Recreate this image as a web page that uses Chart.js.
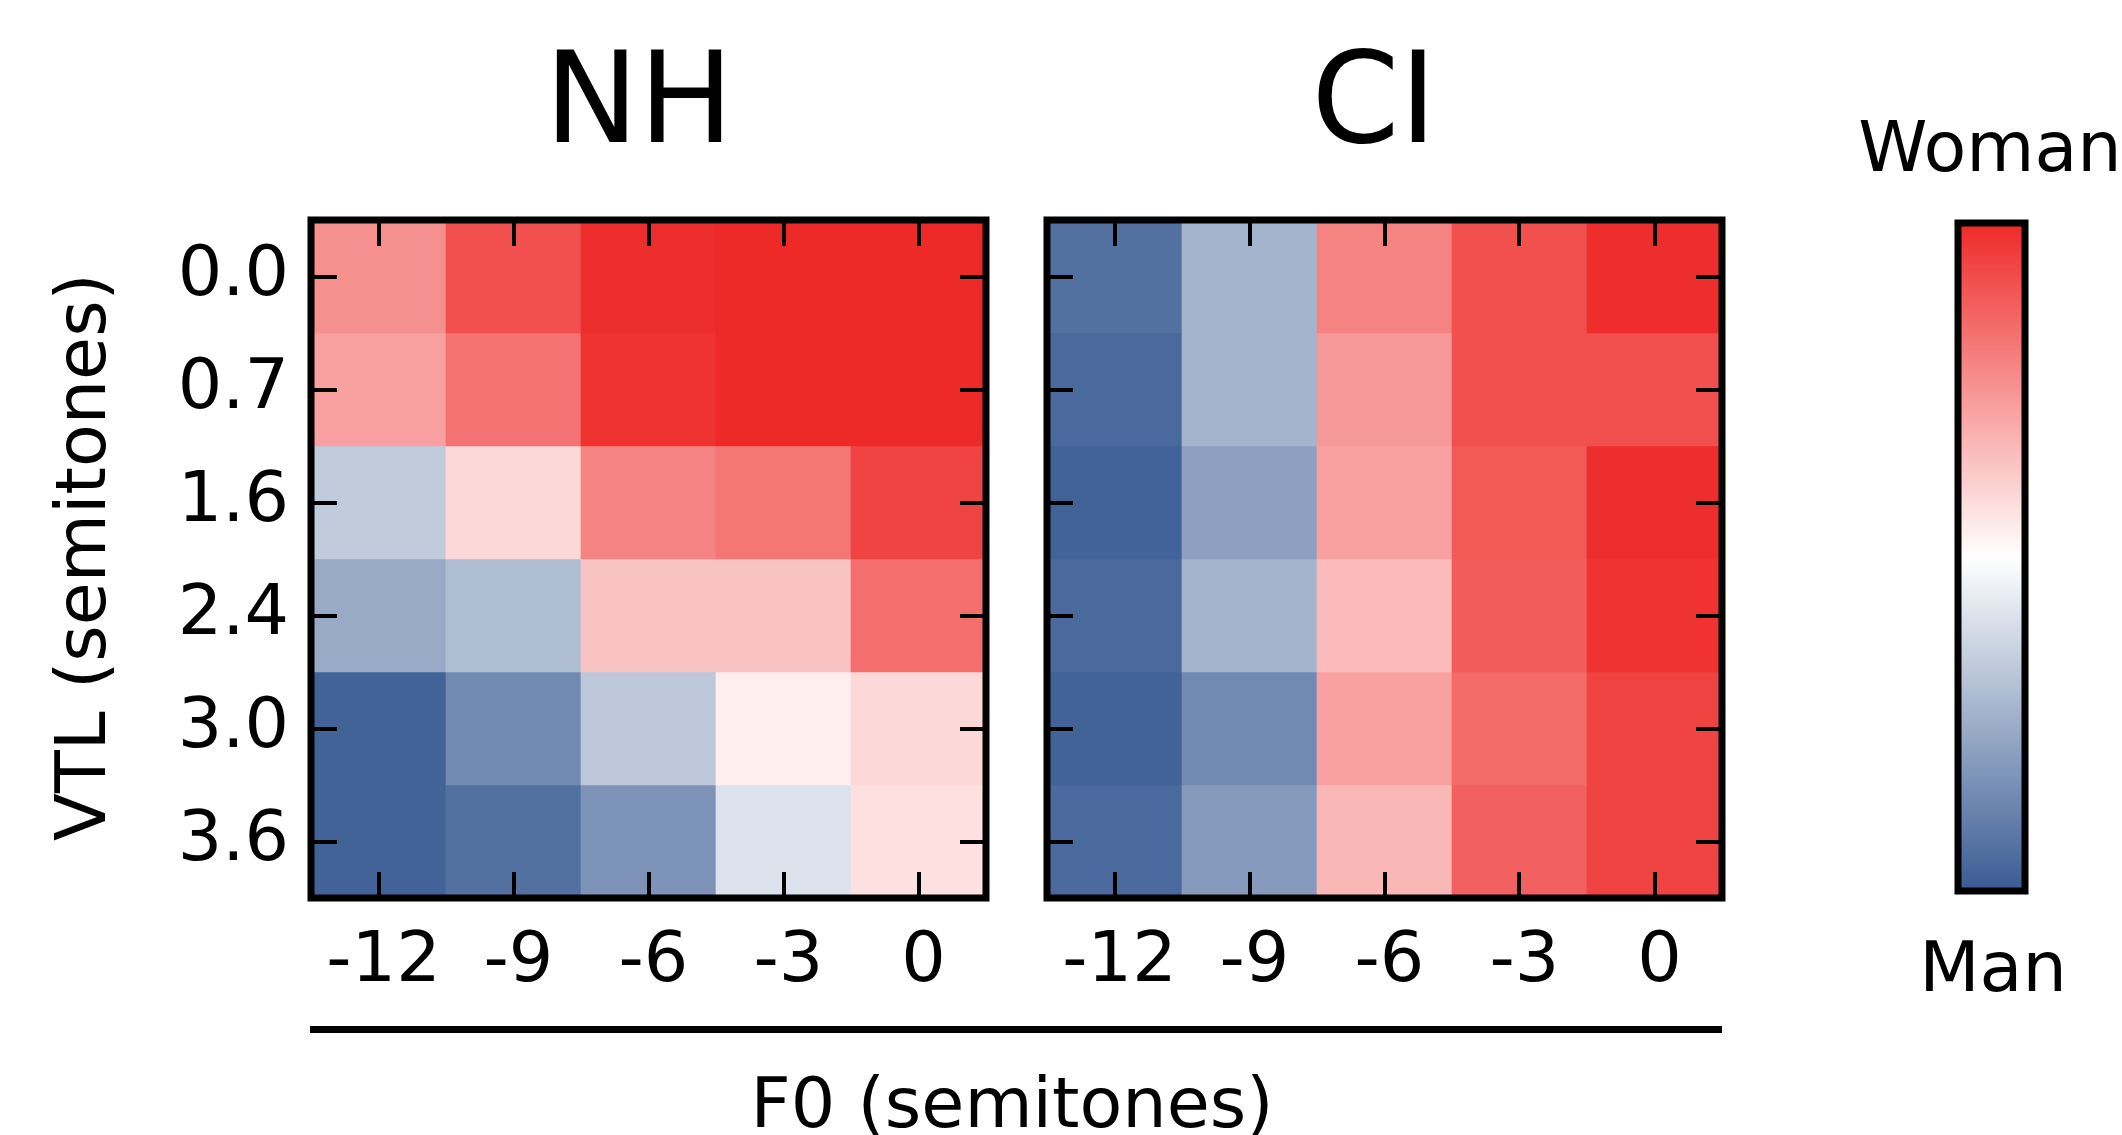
<!DOCTYPE html>
<html>
<head>
<meta charset="utf-8">
<script src="https://cdn.jsdelivr.net/npm/chart.js@4.4.1/dist/chart.umd.min.js"></script>
<style>
  html, body { margin: 0; padding: 0; background: #fff; }
  body { width: 2122px; height: 1135px; position: relative; overflow: hidden; font-family: 'DejaVu Sans', sans-serif; color: #000; }
  canvas { position: absolute; }
  .lbl { position: absolute; line-height: 1; white-space: nowrap; }
</style>
</head>
<body>
<div class="lbl" style="font-size:126px; left:639px; top:36px; transform:translateX(-50%);">NH</div>
<div class="lbl" style="font-size:126px; left:1374px; top:36px; transform:translateX(-50%);">CI</div>
<div class="lbl" style="font-size:70px; left:1990px; top:112px; transform:translateX(-50%);">Woman</div>
<div class="lbl" style="font-size:70px; left:1993px; top:932px; transform:translateX(-50%);">Man</div>
<div class="lbl" style="font-size:70px; left:81px; top:557px; transform:translate(-50%,-50%) rotate(-90deg);">VTL (semitones)</div>
<div class="lbl" style="font-size:70px; left:1012px; top:1068px; transform:translateX(-50%);">F0 (semitones)</div>
<div style="position:absolute; left:310px; top:1026px; width:1412px; height:7px; background:#000;"></div>

<canvas id="nh" width="1010" height="1135" style="left:0; top:0;"></canvas>
<canvas id="ci" width="730" height="1135" style="left:1010px; top:0;"></canvas>
<canvas id="cbar" width="100" height="705" style="left:1940px; top:205px;"></canvas>

<script>
const f0Labels = ['-12', '-9', '-6', '-3', '0'];
const vtlLabels = ['0.0', '0.7', '1.6', '2.4', '3.0', '3.6'];

// proportion of "woman" answers, one row per VTL step (top to bottom), one column per F0 step
const nhWoman = [
  [0.76, 0.91, 0.99, 1.00, 1.00],
  [0.72, 0.83, 0.98, 1.00, 1.00],
  [0.34, 0.59, 0.79, 0.82, 0.94],
  [0.24, 0.30, 0.64, 0.64, 0.84],
  [0.02, 0.14, 0.33, 0.54, 0.59],
  [0.02, 0.06, 0.17, 0.41, 0.57]
];
const ciWoman = [
  [0.06, 0.27, 0.79, 0.91, 0.99],
  [0.04, 0.27, 0.74, 0.91, 0.91],
  [0.02, 0.21, 0.72, 0.89, 0.99],
  [0.04, 0.27, 0.66, 0.88, 0.98],
  [0.02, 0.14, 0.72, 0.85, 0.94],
  [0.04, 0.19, 0.67, 0.87, 0.94]
];
const cbStops = [0, 0.5, 1];

const MAN = [58, 92, 147], MID = [255, 255, 255], WOMAN = [238, 42, 40];
function cmap(v) {
  const lo = v < 0.5;
  const a = lo ? MAN : MID, b = lo ? MID : WOMAN;
  const t = lo ? v / 0.5 : (v - 0.5) / 0.5;
  const c = a.map((x, i) => Math.round(x + (b[i] - x) * t));
  return 'rgb(' + c.join(',') + ')';
}

Chart.defaults.font.family = "'DejaVu Sans', sans-serif";
Chart.defaults.color = '#000';
Chart.defaults.animation = false;

// black box round the plot area, plus inward ticks
const frame = {
  id: 'frame',
  afterDraw(chart, args, opts) {
    const { ctx, chartArea: a, scales } = chart;
    ctx.save();
    ctx.strokeStyle = '#000';
    if (opts.ticks) {
      const len = 26;
      ctx.lineWidth = 4;
      ctx.beginPath();
      scales.x.ticks.forEach((t, i) => {
        const px = Math.round(scales.x.getPixelForTick(i));
        ctx.moveTo(px, a.top); ctx.lineTo(px, a.top + len);
        ctx.moveTo(px, a.bottom); ctx.lineTo(px, a.bottom - len);
      });
      scales.y.ticks.forEach((t, i) => {
        const py = Math.round(scales.y.getPixelForTick(i));
        ctx.moveTo(a.left, py); ctx.lineTo(a.left + len, py);
        ctx.moveTo(a.right, py); ctx.lineTo(a.right - len, py);
      });
      ctx.stroke();
    }
    ctx.lineWidth = 7;
    ctx.lineJoin = 'miter';
    ctx.strokeRect(a.left, a.top, a.width, a.height);
    ctx.restore();
  }
};

function heatmap(id, values, showY, yWidth, padRight) {
  return new Chart(document.getElementById(id), {
    type: 'bar',
    data: {
      labels: f0Labels,
      datasets: vtlLabels.map((lab, r) => ({
        label: lab,
        data: f0Labels.map(() => 1),
        backgroundColor: c => cmap(values[r][c.dataIndex]),
        borderWidth: 0,
        barPercentage: 1,
        categoryPercentage: 1
      }))
    },
    options: {
      responsive: false,
      layout: { padding: { left: 0, top: 220, right: padRight, bottom: 0 } },
      plugins: { legend: { display: false }, tooltip: { enabled: false }, frame: { ticks: true } },
      scales: {
        x: {
          stacked: true,
          grid: { display: false, drawTicks: false },
          border: { display: false },
          ticks: { font: { size: 70 }, padding: 23, labelOffset: 5, maxRotation: 0, autoSkip: false },
          afterFit: s => { s.height = 237; }
        },
        y: {
          stacked: true,
          min: 0, max: 6, reverse: true,
          grid: { display: false, drawTicks: false },
          border: { display: false },
          afterBuildTicks: s => { s.ticks = vtlLabels.map((_, i) => ({ value: i + 0.5 })); },
          ticks: { display: showY, font: { size: 70 }, padding: 22, callback: (v, i) => vtlLabels[i] },
          afterFit: s => { s.width = yWidth; }
        }
      }
    },
    plugins: [frame]
  });
}

heatmap('nh', nhWoman, true, 311, 24);
heatmap('ci', ciWoman, false, 37, 18);

new Chart(document.getElementById('cbar'), {
  type: 'bar',
  data: {
    labels: [''],
    datasets: [{
      data: [1],
      backgroundColor: c => {
        const a = c.chart.chartArea;
        if (!a) return null;
        const g = c.chart.ctx.createLinearGradient(0, a.bottom, 0, a.top);
        cbStops.forEach(s => g.addColorStop(s, cmap(s)));
        return g;
      },
      borderWidth: 0,
      barPercentage: 1,
      categoryPercentage: 1
    }]
  },
  options: {
    responsive: false,
    layout: { padding: { left: 18, right: 15, top: 18, bottom: 19 } },
    plugins: { legend: { display: false }, tooltip: { enabled: false }, frame: { ticks: false } },
    scales: {
      x: { display: false },
      y: { display: false, min: 0, max: 1 }
    }
  },
  plugins: [frame]
});
</script>
</body>
</html>
